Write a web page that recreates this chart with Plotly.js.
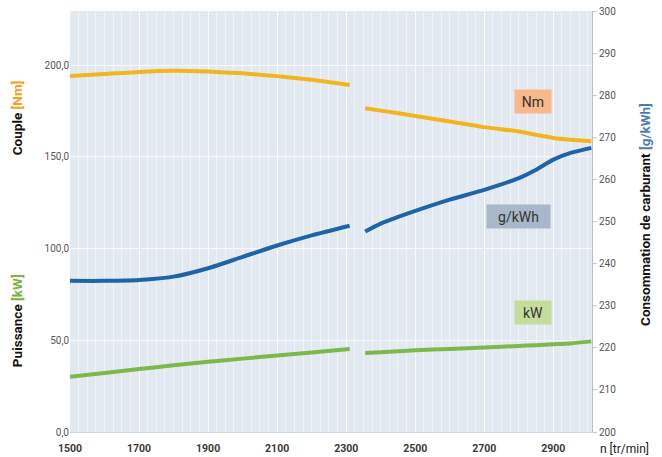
<!DOCTYPE html>
<html>
<head>
<meta charset="utf-8">
<script src="https://cdn.plot.ly/plotly-3.0.1.min.js"></script>
<style>html,body{margin:0;padding:0;background:#fff;}#chart{width:662px;height:457px;}</style>
</head>
<body>
<div id="chart"></div>
<script>
// Engine speed (tr/min), split in two segments with a gap
const rpm = [1500,1600,1700,1800,1900,2000,2100,2200,2310,null,2355,2400,2500,2600,2700,2800,2850,2900,2950,3010];
// Torque Nm (left axis)
const torqueNm = [194.0,195.1,196.3,196.9,196.5,195.5,194.0,192.0,189.2,null,176.5,175.2,172.3,169.3,166.2,163.8,162.0,160.3,159.3,158.5];
// Power kW (left axis)
const powerKW = [30.1,32.2,34.3,36.4,38.3,40.0,41.7,43.4,45.2,null,43.0,43.5,44.5,45.3,46.1,46.9,47.3,47.8,48.3,49.4];
// Specific consumption g/kWh (right axis)
const consoGkWh = [235.9,235.9,236.1,236.9,238.9,241.6,244.3,246.7,249.0,null,247.6,249.5,252.5,255.2,257.5,260.3,262.3,264.7,266.3,267.5];

const xTicks = [1500,1700,1900,2100,2300,2500,2700,2900];
const yLeftTicks = [0,50,100,150,200];
const yLeftText = ['0,0','50,0','100,0','150,0','200,0'];
const yRightTicks = [200,210,220,230,240,250,260,270,280,290,300];

const traces = [
  {x: rpm, y: torqueNm, mode:'lines', line:{color:'#f3b51d', width:4, shape:'spline', smoothing:0.6}, connectgaps:false, hoverinfo:'skip'},
  {x: rpm, y: powerKW, mode:'lines', line:{color:'#7cb84a', width:4, shape:'spline', smoothing:0.6}, connectgaps:false, hoverinfo:'skip'},
  {x: rpm, y: consoGkWh, yaxis:'y2', mode:'lines', line:{color:'#1f63a9', width:4, shape:'spline', smoothing:0.6}, connectgaps:false, hoverinfo:'skip'}
];

const titleFont = {family:'Roboto, Arial, sans-serif', size:13.5, color:'#111', weight:'bold'};
const layout = {
  width:662, height:457,
  margin:{l:70, r:70, t:11, b:25},
  paper_bgcolor:'#ffffff',
  plot_bgcolor:'#e3e9f1',
  showlegend:false,
  xaxis:{
    range:[1500,3012], tickvals:xTicks, ticktext:xTicks.map(String),
    tickfont:{family:'Roboto, Arial, sans-serif', size:10.5, color:'#3a3a3a', weight:'bold'},
    ticklabelstandoff:6,
    showgrid:true, gridcolor:'rgba(255,255,255,0.75)', gridwidth:1,
    minor:{dtick:25, tick0:1500, showgrid:true, gridcolor:'rgba(255,255,255,0.45)', gridwidth:1},
    showline:true, linecolor:'#cfd6df', linewidth:1,
    ticks:'', zeroline:false, fixedrange:true
  },
  yaxis:{
    range:[0,229.5], tickvals:yLeftTicks, ticktext:yLeftText,
    tickfont:{family:'Roboto, Arial, sans-serif', size:10, color:'#555'},
    showgrid:true, gridcolor:'#f7f9fc', gridwidth:1,
    zeroline:false, ticks:'', ticklen:0, fixedrange:true
  },
  yaxis2:{
    overlaying:'y', side:'right', range:[200,300], tickvals:yRightTicks,
    tickfont:{family:'Roboto, Arial, sans-serif', size:10, color:'#555'},
    showgrid:false, zeroline:false,
    ticks:'outside', ticklen:4, tickcolor:'#c8c8c8',
    showline:true, linecolor:'#b8bec6', linewidth:1, fixedrange:true
  },
  annotations:[
    {xref:'paper', yref:'paper', x:-0.101, y:0.746, textangle:-90, showarrow:false,
     text:'<b>Couple </b><b style="color:#f5a01e">[Nm]</b>', font:titleFont, xanchor:'center', yanchor:'middle'},
    {xref:'paper', yref:'paper', x:-0.101, y:0.264, textangle:-90, showarrow:false,
     text:'<b>Puissance </b><b style="color:#78b43e">[kW]</b>', font:titleFont, xanchor:'center', yanchor:'middle'},
    {xref:'paper', yref:'paper', x:1.1015, y:0.518, textangle:-90, showarrow:false,
     text:'<b>Consommation de carburant </b><b style="color:#4a7db5">[g/kWh]</b>', font:titleFont, xanchor:'center', yanchor:'middle'},
    {xref:'paper', yref:'paper', x:1.012, y:-0.04, showarrow:false, xanchor:'left', yanchor:'middle',
     text:'n [tr/min]', font:{family:'Roboto, Arial, sans-serif', size:12, color:'#222'}},
    {xref:'x', yref:'y', x:2842, y:180.4, showarrow:false, text:'Nm', bgcolor:'#f8b889',
     width:34, height:21, font:{family:'Roboto, Arial, sans-serif', size:14, color:'#333'}},
    {xref:'x', yref:'y', x:2799, y:117.7, showarrow:false, text:'g/kWh', bgcolor:'#a8b7c9',
     width:61, height:21, font:{family:'Roboto, Arial, sans-serif', size:14, color:'#333'}},
    {xref:'x', yref:'y', x:2842, y:64.9, showarrow:false, text:'kW', bgcolor:'#c4dc9c',
     width:34, height:21, font:{family:'Roboto, Arial, sans-serif', size:14, color:'#333'}}
  ]
};

Plotly.newPlot('chart', traces, layout, {staticPlot:true, displayModeBar:false});
</script>
</body>
</html>
